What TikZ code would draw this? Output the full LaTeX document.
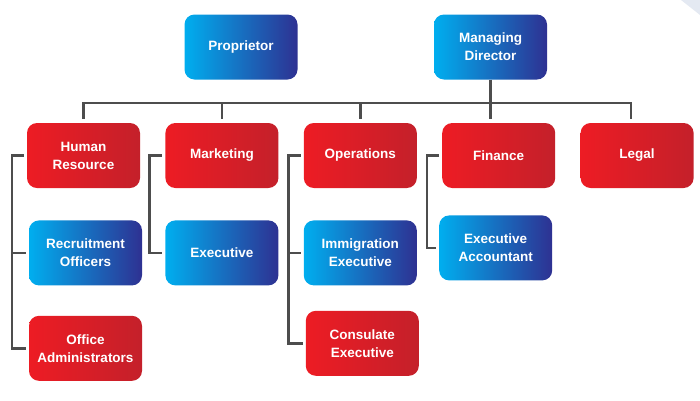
\documentclass[tikz,border=0pt]{standalone}
\usepackage{fontspec}
\newfontfamily\boxfont{Liberation Sans}
\usepackage{tikz}
\usetikzlibrary{positioning}
\definecolor{bluel}{HTML}{00AEEF}
\definecolor{bluer}{HTML}{2E3192}
\definecolor{redl}{HTML}{ED1C24}
\definecolor{redr}{HTML}{C4202A}
\definecolor{linegray}{HTML}{4D4D4D}
\definecolor{cornergray}{HTML}{E4E9F2}

\begin{document}
\begin{tikzpicture}[
    x=1pt, y=-1pt,
    box/.style = {rectangle, rounded corners=10pt, minimum height=65pt, minimum width=113pt,
                  align=center, text=white, font=\boxfont\bfseries\fontsize{13.5}{18}\selectfont},
    bluebox/.style = {box, left color=bluel, right color=bluer},
    redbox/.style = {box, left color=redl, right color=redr},
    link/.style = {draw=linegray, line width=2.6pt},
    gap/.style = {shorten <=3pt}
]
\useasboundingbox (0,0) rectangle (700,400);
\fill[cornergray] (681,0) -- (700,0) -- (700,15) -- cycle;

% Top
\node[bluebox] (prop) at (241,47) {Proprietor};
\node[bluebox] (md) at (490.5,47) {Managing\\Director};

% Departments
\node[redbox] (hr) at (83.5,155.5) {Human\\Resource};
\node[redbox, right=25pt of hr] (mkt) {Marketing};
\node[redbox, right=25pt of mkt] (ops) {Operations};
\node[redbox, right=25pt of ops] (fin) {Finance};
\node[redbox, right=25pt of fin] (legal) {Legal};

% Staff
\node[bluebox, below=32pt of hr, xshift=2pt] (rec) {Recruitment\\Officers};
\node[redbox, below=30pt of rec] (adm) {Office\\Administrators};
\node[bluebox, below=32pt of mkt] (mktexe) {Executive};
\node[bluebox, below=32pt of ops] (imm) {Immigration\\Executive};
\node[redbox, below=25pt of imm, xshift=2pt] (con) {Consulate\\Executive};
\node[bluebox, below=27pt of fin, xshift=-3pt] (acc) {Executive\\Accountant};

% Bus
\coordinate (bus) at ([yshift=20pt]hr.north);
\coordinate (legdrop) at ([xshift=-6pt]legal.north);
\draw[link, shorten <=4pt, shorten >=4pt] (hr.north) |- (bus -| legdrop) -- (legdrop);
\draw[link, shorten <=4pt] (mkt.north) -- (mkt.north |- bus);
\draw[link, shorten <=4pt] (ops.north) -- (ops.north |- bus);
\draw[link, shorten >=4pt] (md.south) -- (md.south |- fin.north);

% Brackets
\coordinate (hrbar) at ([xshift=-15pt]hr.west);
\coordinate (mktbar) at ([xshift=-16pt]mkt.west);
\coordinate (opsbar) at ([xshift=-15pt]ops.west);
\coordinate (finbar) at ([xshift=-15pt]fin.west);

\draw[link, gap, shorten >=3pt] (hr.west) -- (hrbar) |- (adm.west);
\draw[link, gap] (rec.west) -- (rec.west -| hrbar);
\draw[link, gap, shorten >=3pt] (mkt.west) -- (mktbar) |- (mktexe.west);
\draw[link, gap, shorten >=3pt] (ops.west) -- (opsbar) |- (con.west);
\draw[link, gap] (imm.west) -- (imm.west -| opsbar);
\draw[link, gap, shorten >=3pt] (fin.west) -- (finbar) |- (acc.west);

\end{tikzpicture}
\end{document}
